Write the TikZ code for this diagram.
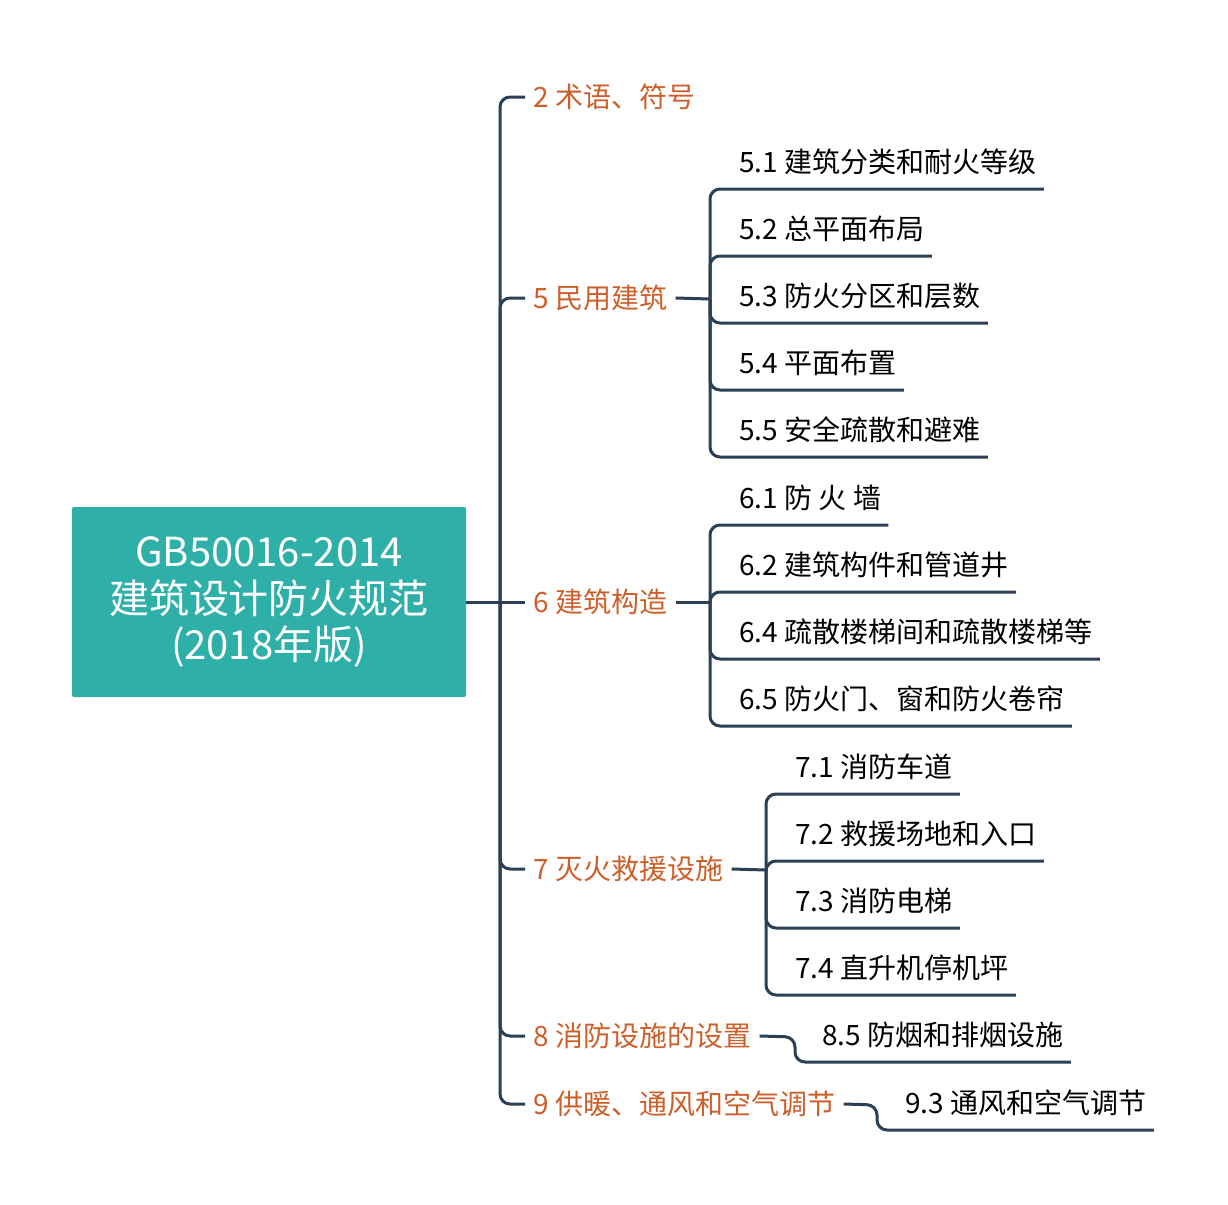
\documentclass[tikz,border=0pt]{standalone}
\usepackage{fontspec}
\setmainfont{Noto Sans CJK SC}
\usepackage{tikz}
\usetikzlibrary{positioning,calc}
\definecolor{linenavy}{HTML}{2B3F55}
\definecolor{chaporange}{HTML}{CD5F2A}
\definecolor{rootteal}{HTML}{2EB0A9}

\begin{document}
\begin{tikzpicture}[
    x=0.5pt, y=-0.5pt,
    rootbox/.style={rectangle, fill=rootteal, text=white, minimum width=197pt, minimum height=95pt, align=center, rounded corners=1pt, font=\fontsize{20}{23.4}\selectfont},
    chapter/.style={anchor=west, text=chaporange, inner xsep=4pt, text height=10pt, text depth=0pt, font=\fontsize{14}{16}\selectfont},
    section/.style={anchor=south west, inner xsep=3.5pt, inner ysep=8.3pt, text height=10pt, text depth=0pt, font=\fontsize{14}{16}\selectfont},
    link/.style={draw=linenavy, line width=1.5pt, rounded corners=5pt}
]
    \useasboundingbox (0,0) rectangle (1228,1205);

    \node[rootbox] (root) at (269,602) {GB50016-2014\\建筑设计防火规范\\(2018年版)};
    \coordinate (hub) at (500,602);

    \node[chapter] (l2) at (525,97) {2 术语、符号};
    \node[chapter] (l5) at (525,298) {5 民用建筑};
    \node[chapter] (l6) at (525,602) {6 建筑构造};
    \node[chapter] (l7) at (525,869) {7 灭火救援设施};
    \node[chapter] (l8) at (525,1036) {8 消防设施的设置};
    \node[chapter] (l9) at (525,1104) {9 供暖、通风和空气调节};

    \coordinate (j5) at (710,299);
    \coordinate (j6) at (710,602);
    \coordinate (j7) at (766,870);
    \coordinate (j8) at (795,1037);
    \coordinate (j9) at (877,1105);

    \node[section] (s51) at (732,189) {5.1 建筑分类和耐火等级};
    \node[section] (s52) at (732,256) {5.2 总平面布局};
    \node[section] (s53) at (732,323) {5.3 防火分区和层数};
    \node[section] (s54) at (732,390) {5.4 平面布置};
    \node[section] (s55) at (732,457) {5.5 安全疏散和避难};

    \node[section] (s61) at (732,525) {6.1 防 火 墙};
    \node[section] (s62) at (732,592) {6.2 建筑构件和管道井};
    \node[section] (s64) at (732,659) {6.4 疏散楼梯间和疏散楼梯等};
    \node[section] (s65) at (732,726) {6.5 防火门、窗和防火卷帘};

    \node[section] (s71) at (788,794) {7.1 消防车道};
    \node[section] (s72) at (788,861) {7.2 救援场地和入口};
    \node[section] (s73) at (788,928) {7.3 消防电梯};
    \node[section] (s74) at (788,995) {7.4 直升机停机坪};

    \node[section] (s85) at (815,1062) {8.5 防烟和排烟设施};
    \node[section] (s93) at (898,1130) {9.3 通风和空气调节};

    \draw[link] (root.east) -- (l6.west);
    \foreach \c in {l2,l5,l7,l8,l9}
        \draw[link] (hub) |- (\c.west);

    \draw[link] (l5.east) -- (j5);
    \foreach \s in {s51,s52,s53,s54,s55}
        \draw[link] (j5) |- (\s.south west) -- (\s.south east);

    \draw[link] (l6.east) -- (j6);
    \foreach \s in {s61,s62,s64,s65}
        \draw[link] (j6) |- (\s.south west) -- (\s.south east);

    \draw[link] (l7.east) -- (j7);
    \foreach \s in {s71,s72,s73,s74}
        \draw[link] (j7) |- (\s.south west) -- (\s.south east);

    \draw[link] (l8.east) -- (j8) |- (s85.south west) -- (s85.south east);
    \draw[link] (l9.east) -- (j9) |- (s93.south west) -- (s93.south east);
\end{tikzpicture}
\end{document}
